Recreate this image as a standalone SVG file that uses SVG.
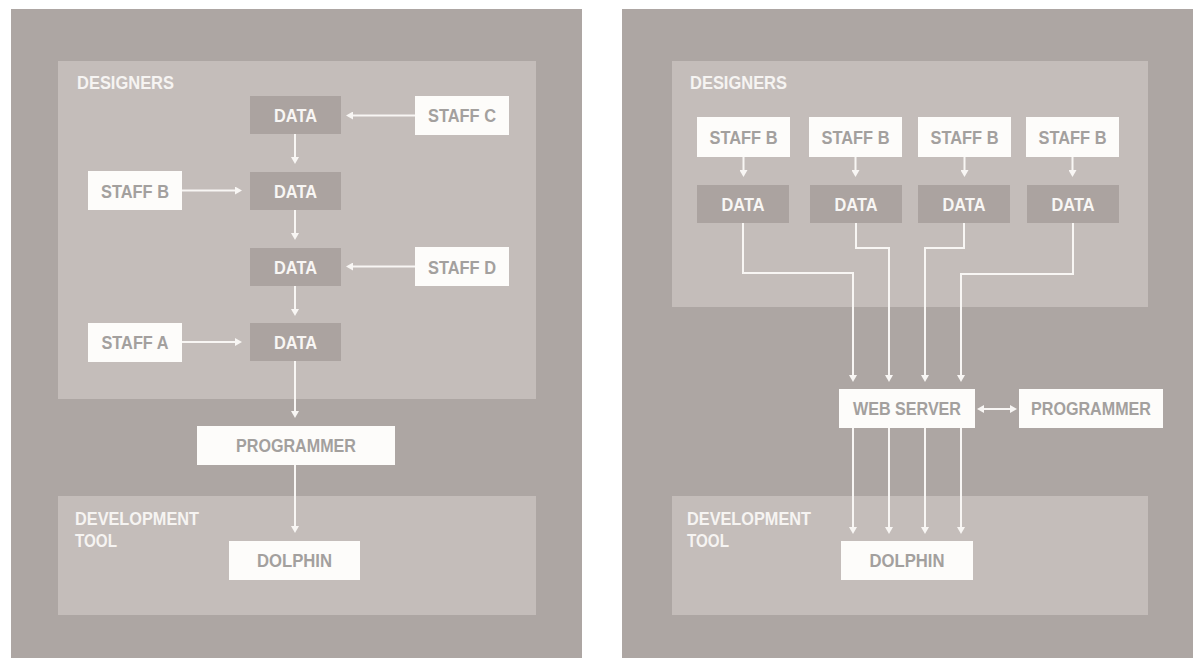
<svg xmlns="http://www.w3.org/2000/svg" width="1193" height="658" viewBox="0 0 1193 658">
  <style>
    .panel { fill: #ada6a3; }
    .zone { fill: #c4bdba; }
    .data { fill: #aba3a0; }
    .box { fill: #fdfcfa; }
    text { font-family: "Liberation Sans", Arial, sans-serif; font-weight: bold; font-size: 18.5px; }
    .lbl { fill: #f6f4f2; }
    .dt { fill: #f8f6f4; text-anchor: middle; }
    .bt { fill: #a3a09e; text-anchor: middle; }
    .wire { stroke: #f8f6f4; stroke-width: 2; fill: none; }
  </style>
  <defs>
    <marker id="ah" viewBox="0 0 7 8" refX="4" refY="4" markerWidth="7" markerHeight="8" markerUnits="userSpaceOnUse" orient="auto-start-reverse">
      <path d="M0,0 L7,4 L0,8 z" fill="#f8f6f4"/>
    </marker>
  </defs>

  <rect width="1193" height="658" fill="#ffffff"/>

  <!-- left panel: sequential hand-off -->
  <g id="panel-left">
    <rect class="panel" x="11" y="9" width="571" height="660"/>
    <rect class="zone" x="58" y="61" width="478" height="338"/>
    <rect class="zone" x="58" y="496" width="478" height="119"/>
    <text class="lbl" x="77" y="89" textLength="97" lengthAdjust="spacingAndGlyphs">DESIGNERS</text>
    <text class="lbl" x="75" y="525" textLength="124" lengthAdjust="spacingAndGlyphs">DEVELOPMENT</text>
    <text class="lbl" x="75" y="547" textLength="42" lengthAdjust="spacingAndGlyphs">TOOL</text>
  </g>

  <!-- right panel: shared web server -->
  <g id="panel-right">
    <rect class="panel" x="622" y="9" width="580" height="660"/>
    <rect class="zone" x="672" y="61" width="476" height="246"/>
    <rect class="zone" x="672" y="496" width="476" height="119"/>
    <text class="lbl" x="690" y="89" textLength="97" lengthAdjust="spacingAndGlyphs">DESIGNERS</text>
    <text class="lbl" x="687" y="525" textLength="124" lengthAdjust="spacingAndGlyphs">DEVELOPMENT</text>
    <text class="lbl" x="687" y="547" textLength="42" lengthAdjust="spacingAndGlyphs">TOOL</text>
  </g>

  <!-- connectors -->
  <g id="connectors" class="wire" marker-end="url(#ah)">
    <!-- left -->
    <line x1="415" y1="115.5" x2="349" y2="115.5"/>
    <line x1="295" y1="134" x2="295" y2="161"/>
    <line x1="182" y1="190.5" x2="239" y2="190.5"/>
    <line x1="295" y1="210" x2="295" y2="237"/>
    <line x1="415" y1="266.5" x2="349" y2="266.5"/>
    <line x1="295" y1="286" x2="295" y2="313"/>
    <line x1="182" y1="342" x2="239" y2="342"/>
    <line x1="295" y1="361" x2="295" y2="415"/>
    <line x1="295" y1="465" x2="295" y2="530"/>
    <!-- right: staff to data -->
    <line x1="743.5" y1="157" x2="743.5" y2="174"/>
    <line x1="855.5" y1="157" x2="855.5" y2="174"/>
    <line x1="964.5" y1="157" x2="964.5" y2="174"/>
    <line x1="1072.5" y1="157" x2="1072.5" y2="174"/>
    <!-- right: data to web server -->
    <polyline points="743,223 743,273 853,273 853,379"/>
    <polyline points="856,223 856,248 889,248 889,379"/>
    <polyline points="964,223 964,248 925,248 925,379"/>
    <polyline points="1073,223 1073,274 961,274 961,379"/>
    <!-- right: web server to dolphin -->
    <line x1="853" y1="428" x2="853" y2="531"/>
    <line x1="889" y1="428" x2="889" y2="531"/>
    <line x1="925" y1="428" x2="925" y2="531"/>
    <line x1="961" y1="428" x2="961" y2="531"/>
    <!-- web server / programmer exchange -->
    <line x1="980" y1="409" x2="1014" y2="409" marker-start="url(#ah)"/>
  </g>

  <!-- left nodes -->
  <g id="l-data-1"><rect class="data" x="250" y="96" width="91" height="38"/><text class="dt" x="295.5" y="121.5" textLength="43" lengthAdjust="spacingAndGlyphs">DATA</text></g>
  <g id="l-staff-c"><rect class="box" x="415" y="96" width="94" height="39"/><text class="bt" x="462" y="121.5" textLength="68" lengthAdjust="spacingAndGlyphs">STAFF C</text></g>
  <g id="l-data-2"><rect class="data" x="250" y="172" width="91" height="38"/><text class="dt" x="295.5" y="197.5" textLength="43" lengthAdjust="spacingAndGlyphs">DATA</text></g>
  <g id="l-staff-b"><rect class="box" x="88" y="171" width="94" height="39"/><text class="bt" x="135" y="197.5" textLength="68" lengthAdjust="spacingAndGlyphs">STAFF B</text></g>
  <g id="l-data-3"><rect class="data" x="250" y="248" width="91" height="38"/><text class="dt" x="295.5" y="273.5" textLength="43" lengthAdjust="spacingAndGlyphs">DATA</text></g>
  <g id="l-staff-d"><rect class="box" x="415" y="247" width="94" height="39"/><text class="bt" x="462" y="273.5" textLength="68" lengthAdjust="spacingAndGlyphs">STAFF D</text></g>
  <g id="l-data-4"><rect class="data" x="250" y="323" width="91" height="38"/><text class="dt" x="295.5" y="348.5" textLength="43" lengthAdjust="spacingAndGlyphs">DATA</text></g>
  <g id="l-staff-a"><rect class="box" x="88" y="323" width="94" height="39"/><text class="bt" x="135" y="348.5" textLength="67" lengthAdjust="spacingAndGlyphs">STAFF A</text></g>
  <g id="l-programmer"><rect class="box" x="197" y="426" width="198" height="39"/><text class="bt" x="296" y="452" textLength="120" lengthAdjust="spacingAndGlyphs">PROGRAMMER</text></g>
  <g id="l-dolphin"><rect class="box" x="229" y="541" width="131" height="39"/><text class="bt" x="294.5" y="567" textLength="75" lengthAdjust="spacingAndGlyphs">DOLPHIN</text></g>

  <!-- right nodes -->
  <g id="r-staff-1"><rect class="box" x="697" y="117" width="93" height="40"/><text class="bt" x="743.5" y="143.5" textLength="68" lengthAdjust="spacingAndGlyphs">STAFF B</text></g>
  <g id="r-staff-2"><rect class="box" x="809" y="117" width="93" height="40"/><text class="bt" x="855.5" y="143.5" textLength="68" lengthAdjust="spacingAndGlyphs">STAFF B</text></g>
  <g id="r-staff-3"><rect class="box" x="918" y="117" width="93" height="40"/><text class="bt" x="964.5" y="143.5" textLength="68" lengthAdjust="spacingAndGlyphs">STAFF B</text></g>
  <g id="r-staff-4"><rect class="box" x="1026" y="117" width="93" height="40"/><text class="bt" x="1072.5" y="143.5" textLength="68" lengthAdjust="spacingAndGlyphs">STAFF B</text></g>
  <g id="r-data-1"><rect class="data" x="697" y="185" width="92" height="38"/><text class="dt" x="743" y="210.5" textLength="43" lengthAdjust="spacingAndGlyphs">DATA</text></g>
  <g id="r-data-2"><rect class="data" x="810" y="185" width="92" height="38"/><text class="dt" x="856" y="210.5" textLength="43" lengthAdjust="spacingAndGlyphs">DATA</text></g>
  <g id="r-data-3"><rect class="data" x="918" y="185" width="92" height="38"/><text class="dt" x="964" y="210.5" textLength="43" lengthAdjust="spacingAndGlyphs">DATA</text></g>
  <g id="r-data-4"><rect class="data" x="1027" y="185" width="92" height="38"/><text class="dt" x="1073" y="210.5" textLength="43" lengthAdjust="spacingAndGlyphs">DATA</text></g>
  <g id="r-web-server"><rect class="box" x="839" y="389" width="136" height="39"/><text class="bt" x="907" y="415" textLength="108" lengthAdjust="spacingAndGlyphs">WEB SERVER</text></g>
  <g id="r-programmer"><rect class="box" x="1019" y="389" width="144" height="39"/><text class="bt" x="1091" y="415" textLength="120" lengthAdjust="spacingAndGlyphs">PROGRAMMER</text></g>
  <g id="r-dolphin"><rect class="box" x="841" y="541" width="132" height="39"/><text class="bt" x="907" y="567" textLength="75" lengthAdjust="spacingAndGlyphs">DOLPHIN</text></g>
</svg>
